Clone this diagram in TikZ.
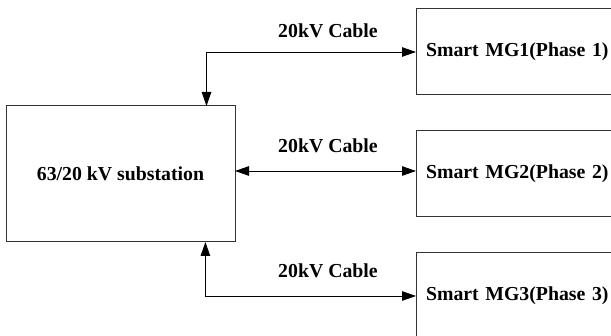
\documentclass[tikz,border=0pt]{standalone}
\usepackage{fontspec}
\setmainfont{Liberation Serif}
\usetikzlibrary{arrows.meta,calc}
\begin{document}
\begin{tikzpicture}[x=1pt,y=-1pt,
  box/.style={draw=black!80,line width=1pt,rectangle,inner sep=0pt,outer sep=0pt},
  mgbox/.style={box,minimum width=224pt,minimum height=86pt,text width=204pt,align=left},
  conn/.style={line width=0.9pt,{Triangle[length=14pt,width=9.5pt]}-{Triangle[length=14pt,width=9.5pt]}},
  txt/.style={font=\fontsize{19.8}{22}\selectfont\bfseries},
  lab/.style={txt,inner sep=0pt}]
\useasboundingbox (0,0) rectangle (611,336);
\clip (0,0) rectangle (611,336);
\node[box,txt,minimum width=229pt,minimum height=136pt] (sub) at (120.5,174) {63/20 kV substation};
\node[mgbox,txt] (mg1) at (528,52) {Smart MG1(Phase 1)};
\node[mgbox,txt] (mg2) at (528,173.5) {Smart MG2(Phase 2)};
\node[mgbox,txt] (mg3) at (528,296) {Smart MG3(Phase 3)};
\draw[conn] (mg1.west) -| ([xshift=-28.5pt]sub.north east);
\draw[conn] ([yshift=3pt]sub.east) -- ([yshift=3pt]sub.east -| mg2.west);
\draw[conn] (mg3.west) -| ([xshift=-29.6pt]sub.south east);
\node[lab] (l1) at (328,31) {20kV Cable};
\node[lab] (l2) at (328,146) {20kV Cable};
\node[lab] (l3) at (328,271) {20kV Cable};
\end{tikzpicture}
\end{document}
